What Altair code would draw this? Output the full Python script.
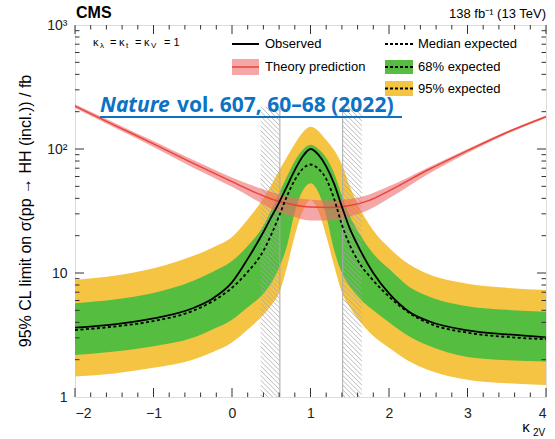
import altair as alt
import numpy as np
import pandas as pd

# ---------------- data ----------------
k2v = [-2, -1.5, -1, -0.5, -0.25, 0, 0.2, 0.4, 0.5, 0.6, 0.7, 0.8, 0.9, 1.0, 1.1, 1.2,
       1.3, 1.4, 1.5, 1.6, 1.8, 2.0, 2.25, 2.5, 3, 3.5, 4]
observed = [3.62, 3.85, 4.3, 5.2, 6.2, 8.4, 13.0, 21.4, 28.2, 37, 50, 67.6, 87, 100, 90, 72.4,
            52.5, 34.3, 22.9, 16.8, 10, 6.84, 4.9, 4.1, 3.45, 3.2, 3.03]
expected = [3.47, 3.7, 4.1, 4.95, 5.9, 7.6, 10.2, 15.1, 20.4, 28.8, 41.7, 56.2, 69.2, 75, 69.2, 57.5,
            39.8, 24.5, 16.8, 12.7, 8.7, 6.45, 4.8, 3.95, 3.3, 3.05, 2.92]
exp68_hi = [5.7, 6.1, 6.9, 8.6, 10.2, 12.5, 16.5, 24, 32, 44, 60, 80, 98, 108, 100, 85,
            64, 42, 29, 22, 14.3, 10.8, 7.8, 6.5, 5.4, 5.05, 4.87]
exp68_lo = [2.18, 2.33, 2.57, 3.0, 3.5, 4.2, 5.3, 6.8, 8.3, 11, 16.5, 31, 46, 53, 45, 29,
            15.5, 10, 7.8, 6.5, 5.0, 4.0, 3.1, 2.6, 2.1, 1.98, 1.93]
exp95_hi = [8.8, 9.5, 10.9, 13.7, 16, 19.5, 27, 40, 51, 67, 86, 110, 136, 151, 140, 118,
            98, 75, 50, 36, 22, 16, 11.8, 9.8, 8.2, 7.6, 7.3]
exp95_lo = [1.46, 1.55, 1.72, 2.0, 2.3, 2.75, 3.5, 4.6, 5.5, 6.9, 11.2, 20, 31.6, 38.8, 31.6, 20,
            11.5, 7.0, 5.3, 4.3, 3.1, 2.5, 1.95, 1.65, 1.38, 1.29, 1.25]

th_k2v = [-2, -1.5, -1, -0.5, 0, 0.25, 0.5, 0.75, 1, 1.25, 1.5, 1.75, 2, 2.5, 3, 3.5, 4]
th_xs = [222, 156, 110, 77, 54.5, 46, 39.5, 35.8, 34, 33.8, 35, 38.5, 46, 68, 97, 136, 182]
th_hi = [230, 163, 116, 82, 59, 51, 45, 41, 39, 38.5, 39.5, 43, 50, 71, 100, 139, 186]
th_lo = [214, 149, 104, 71, 49.5, 40.5, 33, 29, 26.5, 26.5, 28.5, 32.5, 40, 63, 93, 132, 178]

excl_edges = [0.61, 1.41]      # observed boundaries of the allowed interval
hatch_width = 0.245
hatch_top = 220

x_major = [-2, -1, 0, 1, 2, 3, 4]
x_minor = [round(-2 + 0.2 * i, 1) for i in range(31) if i % 5 != 0]
y_major = [1, 10, 100, 1000]
y_minor = [m * d for d in (1, 10, 100) for m in range(2, 10)]

# ---------------- layout ----------------
W, H = 471, 372
FONT = "Liberation Sans"
YEL, GRN = "#f6c443", "#55bd40"

df = pd.DataFrame(dict(k2v=k2v, obs=observed, exp=expected, lo68=exp68_lo,
                       hi68=exp68_hi, lo95=exp95_lo, hi95=exp95_hi))
dth = pd.DataFrame(dict(k2v=th_k2v, xs=th_xs, lo=th_lo, hi=th_hi))


def hatch(a, b, top, step=4.8):
    pxx, pxy = W / 6.0, H / 3.0
    L0, L1 = 0.0, np.log10(top)
    c = pxx * a + pxy * L0 + step / 2
    cmax = pxx * b + pxy * L1
    out = []
    while c < cmax:
        xs_ = max(a, (c - pxy * L1) / pxx)
        xe = min(b, (c - pxy * L0) / pxx)
        if xe > xs_:
            out.append(dict(x=xs_, y=10 ** ((c - pxx * xs_) / pxy),
                            x2=xe, y2=10 ** ((c - pxx * xe) / pxy)))
        c += step
    return out


segs = hatch(excl_edges[0] - hatch_width, excl_edges[0], hatch_top) + \
    hatch(excl_edges[1], excl_edges[1] + hatch_width, hatch_top)
dh = pd.DataFrame(segs)
dedge = pd.DataFrame(dict(x=excl_edges, y=[1, 1], y2=[hatch_top, hatch_top]))

xs = alt.Scale(domain=[-2, 4], nice=False, zero=False)
ys = alt.Scale(type="log", domain=[1, 1000], nice=False)

lab = dict(labelFont=FONT, labelFontSize=14, labelColor="#222", title=None,
           ticks=False, domain=False, grid=False)
x_lab = alt.Axis(values=x_major, labelPadding=9, orient="bottom", **lab)
y_lab = alt.Axis(values=y_major, labelPadding=8, orient="left",
                 labelExpr="datum.value==1000?'10³':datum.value==100?'10²':datum.value==10?'10':'1'",
                 **lab)

yellow = alt.Chart(df).mark_area(color=YEL, interpolate="monotone").encode(
    x=alt.X("k2v:Q", scale=xs, axis=x_lab),
    y=alt.Y("lo95:Q", scale=ys, axis=y_lab), y2="hi95:Q")
green = alt.Chart(df).mark_area(color=GRN, interpolate="monotone").encode(
    x=alt.X("k2v:Q", scale=xs, axis=None),
    y=alt.Y("lo68:Q", scale=ys, axis=None), y2="hi68:Q")
hatch_l = alt.Chart(dh).mark_rule(color="#a8a8a8", strokeWidth=0.8).encode(
    x=alt.X("x:Q", scale=xs, axis=None), y=alt.Y("y:Q", scale=ys, axis=None),
    x2="x2:Q", y2="y2:Q")
edges = alt.Chart(dedge).mark_rule(color="#a8a8a8", strokeWidth=1).encode(
    x=alt.X("x:Q", scale=xs, axis=None), y=alt.Y("y:Q", scale=ys, axis=None), y2="y2:Q")
band = alt.Chart(dth).mark_area(color="#ee6a6a", opacity=0.6, interpolate="monotone").encode(
    x=alt.X("k2v:Q", scale=xs, axis=None),
    y=alt.Y("lo:Q", scale=ys, axis=None), y2="hi:Q")
thline = alt.Chart(dth).mark_line(color="#e8453c", strokeWidth=1.5, interpolate="monotone").encode(
    x=alt.X("k2v:Q", scale=xs, axis=None), y=alt.Y("xs:Q", scale=ys, axis=None))
expl = alt.Chart(df).mark_line(color="black", strokeWidth=1.8, strokeDash=[3, 2.5],
                               interpolate="monotone").encode(
    x=alt.X("k2v:Q", scale=xs, axis=None), y=alt.Y("exp:Q", scale=ys, axis=None))
obsl = alt.Chart(df).mark_line(color="black", strokeWidth=1.8, interpolate="monotone").encode(
    x=alt.X("k2v:Q", scale=xs, axis=None), y=alt.Y("obs:Q", scale=ys, axis=None))


# inward tick marks on all four sides, placed by the axis scales
def xticks(vals, size):
    d = pd.DataFrame({"v": vals})
    base = alt.Chart(d).mark_rule(color="#333", strokeWidth=1)
    return [base.encode(x=alt.X("v:Q", scale=xs, axis=None), y=alt.value(H), y2=alt.value(H - size)),
            base.encode(x=alt.X("v:Q", scale=xs, axis=None), y=alt.value(0), y2=alt.value(size))]


def yticks(vals, size):
    d = pd.DataFrame({"v": vals})
    base = alt.Chart(d).mark_rule(color="#333", strokeWidth=1)
    return [base.encode(y=alt.Y("v:Q", scale=ys, axis=None), x=alt.value(0), x2=alt.value(size)),
            base.encode(y=alt.Y("v:Q", scale=ys, axis=None), x=alt.value(W), x2=alt.value(W - size))]


tick_layers = xticks(x_major, 9) + xticks(x_minor, 4.5) + yticks(y_major[1:-1], 9) + yticks(y_minor, 4.5)

dummy = pd.DataFrame({"d": [0]})


def txt(s, x, y, size=13, align="left", baseline="middle", font=FONT, **kw):
    return alt.Chart(dummy).mark_text(text=s, fontSize=size, align=align, baseline=baseline,
                                      font=font, **kw).encode(x=alt.value(x), y=alt.value(y))


def rect(x1, x2, y1, y2, color, **kw):
    return alt.Chart(dummy).mark_rect(color=color, **kw).encode(
        x=alt.value(x1), x2=alt.value(x2), y=alt.value(y1), y2=alt.value(y2))


def hrule(x1, x2, y, color, **kw):
    return alt.Chart(dummy).mark_rule(color=color, **kw).encode(
        x=alt.value(x1), x2=alt.value(x2), y=alt.value(y))


BLUE = "#0b72c4"
deco = [
    txt("CMS", 1, -12, size=16, fontWeight="bold"),
    txt("138 fb⁻¹ (13 TeV)", W, -11, size=13, align="right"),
    txt("95% CL limit on σ(pp → HH (incl.)) / fb", -49, 186, size=16, angle=270,
        align="center"),
    txt("κ", 451, 402, size=15, align="center"),
    txt("2V", 464, 408, size=10, align="center"),
    # kappa line
    txt("κ", 18, 18, size=11), txt("λ", 25, 21, size=8),
    txt("=", 35, 18, size=11), txt("κ", 44, 18, size=11), txt("t", 51, 21, size=8),
    txt("=", 60, 18, size=11), txt("κ", 69, 18, size=11), txt("V", 76, 21, size=8),
    txt("= 1", 89, 18, size=11),
    # legend
    hrule(157, 184, 19, "black", strokeWidth=2),
    txt("Observed", 190, 19),
    hrule(310, 338, 19, "black", strokeWidth=2, strokeDash=[3, 2]),
    txt("Median expected", 343, 19),
    rect(157, 184, 34, 50, "#ee6a6a", opacity=0.6),
    hrule(157, 184, 42, "#e8453c", strokeWidth=1.5),
    txt("Theory prediction", 190, 42),
    rect(310, 338, 35, 49, GRN),
    hrule(310, 338, 42, "black", strokeWidth=2, strokeDash=[3, 2]),
    txt("68% expected", 343, 42),
    rect(310, 338, 56, 71, YEL),
    hrule(310, 338, 63.5, "black", strokeWidth=2, strokeDash=[3, 2]),
    txt("95% expected", 343, 64),
    # journal reference
    txt("Nature", 25, 87, size=21, baseline="alphabetic", font="Noto Sans",
        fontWeight="bold", fontStyle="italic", color=BLUE),
    txt("vol. 607, 60–68 (2022)", 102, 87, size=21, baseline="alphabetic",
        font="Noto Sans", fontWeight="bold", color=BLUE),
    hrule(25, 327, 92, BLUE, strokeWidth=2),
]

chart = alt.layer(yellow, green, hatch_l, edges, band, thline, expl, obsl,
                  *tick_layers, *deco).resolve_axis(
    x="independent", y="independent"
).properties(
    width=W, height=H, autosize="none",
    padding={"left": 75, "top": 25, "right": 9, "bottom": 42},
).configure_view(stroke="#555", strokeWidth=1).configure(background="white")

chart.save("out.html", embed_options={"renderer": "svg", "actions": False})
